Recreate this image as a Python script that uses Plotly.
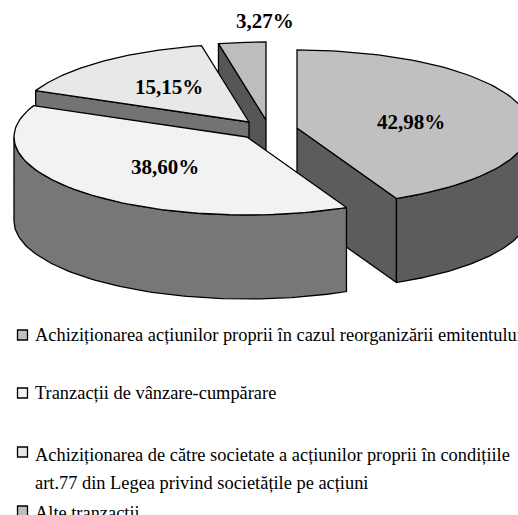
import numpy as np
import plotly.graph_objects as go

# Data
categories = [
    "Achiziționarea acțiunilor proprii în cazul reorganizării emitentului",
    "Tranzacții de vânzare-cumpărare",
    "Achiziționarea de către societate a acțiunilor proprii în condițiile<br>art.77 din Legea privind societățile pe acțiuni",
    "Alte tranzacții",
]
values = [42.98, 38.60, 15.15, 3.27]

# Styles / layout of the exploded pseudo-3D pie
top_colors = ["#c0c0c0", "#f2f2f2", "#e8e8e8", "#bdbdbd"]
side_colors = ["#5c5c5c", "#777777", "#737373", "#565656"]
apex_x = [297, 247, 249, 266]
apex_y = [128, 137, 122, 120]
label_x = [411, 165, 169, 265]
label_y = [122, 167, 87, 21]
marker_y = [335, 393, 452, 511]
text_y = [335, 393, 455, 513]
LINE_GAP = 28
RX, RY, DEPTH = 233, 78, 84

W, H = 518, 515
fig = go.Figure()


def rim(i, a, b, n=90):
    t = np.radians(np.linspace(a, b, n))
    return apex_x[i] + RX * np.sin(t), apex_y[i] - RY * np.cos(t)


def poly(x, y, color):
    x, y = np.asarray(x), np.asarray(y)
    fig.add_trace(go.Scatter(
        x=np.r_[x, x[0]], y=np.r_[y, y[0]], mode="lines", fill="toself",
        fillcolor=color, line=dict(color="#000000", width=1.3),
        hoverinfo="skip", showlegend=False))


def wall(i, ang):
    """flat inner face of slice i along the radius at angle ang"""
    ex, ey = rim(i, ang, ang, 1)
    ax, ay = apex_x[i], apex_y[i]
    poly([ax, ex[0], ex[0], ax], [ay, ey[0], ey[0] + DEPTH, ay + DEPTH], side_colors[i])


def band(i, a, b):
    """curved outer face of slice i"""
    x, y = rim(i, a, b)
    poly(np.r_[x, x[::-1]], np.r_[y, y[::-1] + DEPTH], side_colors[i])


def top(i, a, b):
    x, y = rim(i, a, b)
    poly(np.r_[apex_x[i], x], np.r_[apex_y[i], y], top_colors[i])


edges = np.r_[0, np.cumsum(values)] / sum(values) * 360
a0, a1, a2, a3, a4 = edges

# back to front
wall(3, a3)
top(3, a3, a4)
wall(0, a1)
band(0, 90, a1)
top(0, a0, a1)
wall(2, a2)
top(2, a2, a3)
band(1, a1, 270)
top(1, a1, a2)

# value labels
for v, lx, ly in zip(values, label_x, label_y):
    fig.add_annotation(x=lx, y=ly, text=f"{v:.2f}%".replace(".", ","), showarrow=False,
                       font=dict(family="Liberation Serif", size=21, color="#000000", weight="bold"))

# legend
fig.add_trace(go.Scatter(
    x=[22.5] * 4, y=marker_y, mode="markers", hoverinfo="skip", showlegend=False,
    marker=dict(symbol="square", size=10, color=top_colors,
                line=dict(color="#000000", width=1.3))))
for name, ly in zip(categories, text_y):
    for k, line in enumerate(name.split("<br>")):
        fig.add_annotation(x=33, y=ly + k * LINE_GAP, text=line, showarrow=False,
                           xanchor="left", align="left",
                           font=dict(family="Liberation Serif", size=18.4, color="#000000"))

fig.update_layout(
    width=W, height=H, margin=dict(l=0, r=0, t=0, b=0), autosize=False,
    paper_bgcolor="#ffffff", plot_bgcolor="#ffffff",
    xaxis=dict(range=[0, W], visible=False, fixedrange=True),
    yaxis=dict(range=[H, 0], visible=False, fixedrange=True),
)
fig.write_html("out.html", config={"displayModeBar": False},
               post_script="document.body.style.margin='0';document.body.style.overflow='hidden';")
